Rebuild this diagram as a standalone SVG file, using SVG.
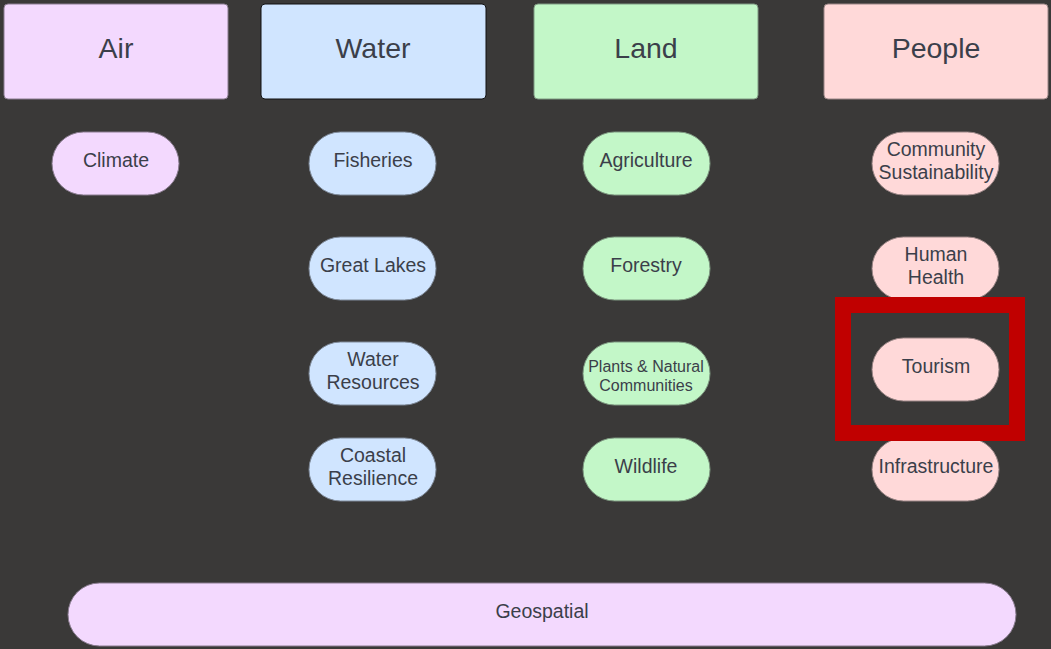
<svg xmlns="http://www.w3.org/2000/svg" width="1051" height="649" viewBox="0 0 1051 649">
<style>
.t{font-family:"Liberation Sans",Arial,sans-serif;fill:#3b3f4a;text-anchor:middle}
.h{font-size:28.5px}
.p{font-size:19.5px}
.s{font-size:16px}
.air{fill:#f3d9fe;stroke:#8a7d90;stroke-width:1}
.water{fill:#d0e5ff;stroke:#7f8a99;stroke-width:1}
.land{fill:#c3f7c8;stroke:#7f9a82;stroke-width:1}
.people{fill:#ffd9d9;stroke:#9a8686;stroke-width:1}
</style>
<rect x="0" y="0" width="1051" height="649" fill="#3a3938"/>
<g id="air"><rect class="air" x="4" y="4" width="224" height="95" rx="4"/><text class="t h" x="116" y="58">Air</text></g>
<g id="water"><rect class="water" x="261" y="4" width="225" height="95" rx="4" style="stroke:#111"/><text class="t h" x="373" y="58">Water</text></g>
<g id="land"><rect class="land" x="534" y="4" width="224" height="95" rx="4"/><text class="t h" x="646" y="58">Land</text></g>
<g id="people"><rect class="people" x="824" y="4" width="224" height="95" rx="4"/><text class="t h" x="936" y="58">People</text></g>

<g id="climate"><rect class="air" x="52" y="132" width="127" height="63" rx="31.5"/><text class="t p" x="116" y="167">Climate</text></g>

<g id="fisheries"><rect class="water" x="309" y="132" width="127" height="63" rx="31.5"/><text class="t p" x="373" y="167">Fisheries</text></g>
<g id="greatlakes"><rect class="water" x="309" y="237" width="127" height="63" rx="31.5"/><text class="t p" x="373" y="272">Great Lakes</text></g>
<g id="waterresources"><rect class="water" x="309" y="342" width="127" height="63" rx="31.5"/><text class="t p" x="373" y="366">Water</text><text class="t p" x="373" y="389">Resources</text></g>
<g id="coastal"><rect class="water" x="309" y="438" width="127" height="63" rx="31.5"/><text class="t p" x="373" y="462">Coastal</text><text class="t p" x="373" y="485">Resilience</text></g>

<g id="agriculture"><rect class="land" x="583" y="132" width="127" height="63" rx="31.5"/><text class="t p" x="646" y="167">Agriculture</text></g>
<g id="forestry"><rect class="land" x="583" y="237" width="127" height="63" rx="31.5"/><text class="t p" x="646" y="272">Forestry</text></g>
<g id="plants"><rect class="land" x="583" y="342" width="127" height="63" rx="31.5"/><text class="t s" x="646" y="372">Plants &amp; Natural</text><text class="t s" x="646" y="391">Communities</text></g>
<g id="wildlife"><rect class="land" x="583" y="438" width="127" height="63" rx="31.5"/><text class="t p" x="646" y="473">Wildlife</text></g>

<g id="community"><rect class="people" x="872" y="132" width="127" height="63" rx="31.5"/><text class="t p" x="936" y="156">Community</text><text class="t p" x="936" y="179">Sustainability</text></g>
<g id="health"><rect class="people" x="872" y="237" width="127" height="63" rx="31.5"/><text class="t p" x="936" y="261">Human</text><text class="t p" x="936" y="284">Health</text></g>
<g id="tourism"><rect class="people" x="872" y="338" width="127" height="63" rx="31.5"/><text class="t p" x="936" y="373">Tourism</text></g>
<g id="infrastructure"><rect class="people" x="872" y="438" width="127" height="63" rx="31.5"/><text class="t p" x="936" y="473">Infrastructure</text></g>

<g id="geospatial"><rect class="air" x="68" y="583" width="948" height="63" rx="31.5"/><text class="t p" x="542" y="618">Geospatial</text></g>

<g id="connectors"></g>
<g id="highlight"><rect x="843" y="305" width="174" height="128" fill="none" stroke="#c00000" stroke-width="16"/></g>
</svg>
